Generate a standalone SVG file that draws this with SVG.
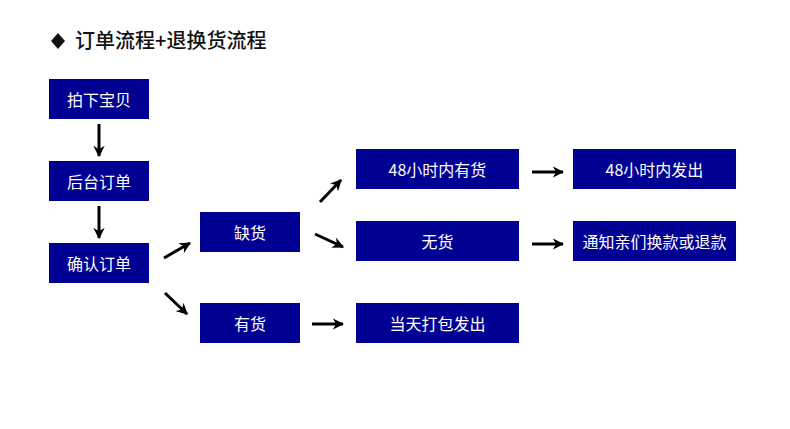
<svg xmlns="http://www.w3.org/2000/svg" width="790" height="429" viewBox="0 0 790 429">
<style>
.box{fill:#000092}
.t{fill:#fff;font-family:"Noto Sans CJK SC","Noto Sans",sans-serif;font-size:16px;text-anchor:middle;dominant-baseline:central}
.title{fill:#111;font-family:"Noto Sans CJK SC","Noto Sans",sans-serif;font-size:20px;font-weight:500}
.c{stroke:#000;stroke-width:3;fill:none;marker-end:url(#ah)}
</style>
<defs>
<marker id="ah" viewBox="0 0 10 10" refX="9" refY="5" markerWidth="3.8" markerHeight="3.8" markerUnits="strokeWidth" orient="auto">
<path d="M0,0 L10,5 L0,10 L3,5 Z" fill="#000"/>
</marker>
</defs>
<rect width="790" height="429" fill="#fff"/>
<g id="title">
<path d="M58,33 L65,41 L58,49 L51,41 Z" fill="#111"/>
<text class="title" x="75" y="48">订单流程+退换货流程</text>
</g>
<g id="n1"><rect class="box" x="49" y="79" width="100" height="40"/><text class="t" x="99" y="99">拍下宝贝</text></g>
<g id="n2"><rect class="box" x="49" y="161" width="100" height="40"/><text class="t" x="99" y="181">后台订单</text></g>
<g id="n3"><rect class="box" x="49" y="243" width="100" height="40"/><text class="t" x="99" y="263">确认订单</text></g>
<g id="n4"><rect class="box" x="200" y="212" width="100" height="40"/><text class="t" x="250" y="232">缺货</text></g>
<g id="n5"><rect class="box" x="200" y="303" width="100" height="40"/><text class="t" x="250" y="323">有货</text></g>
<g id="n6"><rect class="box" x="356" y="149" width="163" height="40"/><text class="t" x="437.5" y="169">48小时内有货</text></g>
<g id="n7"><rect class="box" x="356" y="221" width="163" height="40"/><text class="t" x="437.5" y="241">无货</text></g>
<g id="n8"><rect class="box" x="356" y="303" width="163" height="40"/><text class="t" x="437.5" y="323">当天打包发出</text></g>
<g id="n9"><rect class="box" x="573" y="149" width="163" height="40"/><text class="t" x="654.5" y="169">48小时内发出</text></g>
<g id="n10"><rect class="box" x="573" y="221" width="163" height="40"/><text class="t" x="654.5" y="241">通知亲们换款或退款</text></g>
<g id="connectors">
<line class="c" x1="99" y1="124" x2="99" y2="156"/>
<line class="c" x1="99" y1="206" x2="99" y2="238"/>
<line class="c" x1="164" y1="258" x2="190" y2="243"/>
<line class="c" x1="165" y1="293" x2="187" y2="314"/>
<line class="c" x1="320" y1="202" x2="341" y2="180"/>
<line class="c" x1="315" y1="234" x2="343" y2="247"/>
<line class="c" x1="312" y1="324" x2="343" y2="324"/>
<line class="c" x1="532" y1="172" x2="563" y2="172"/>
<line class="c" x1="532" y1="244" x2="563" y2="244"/>
</g>
</svg>
